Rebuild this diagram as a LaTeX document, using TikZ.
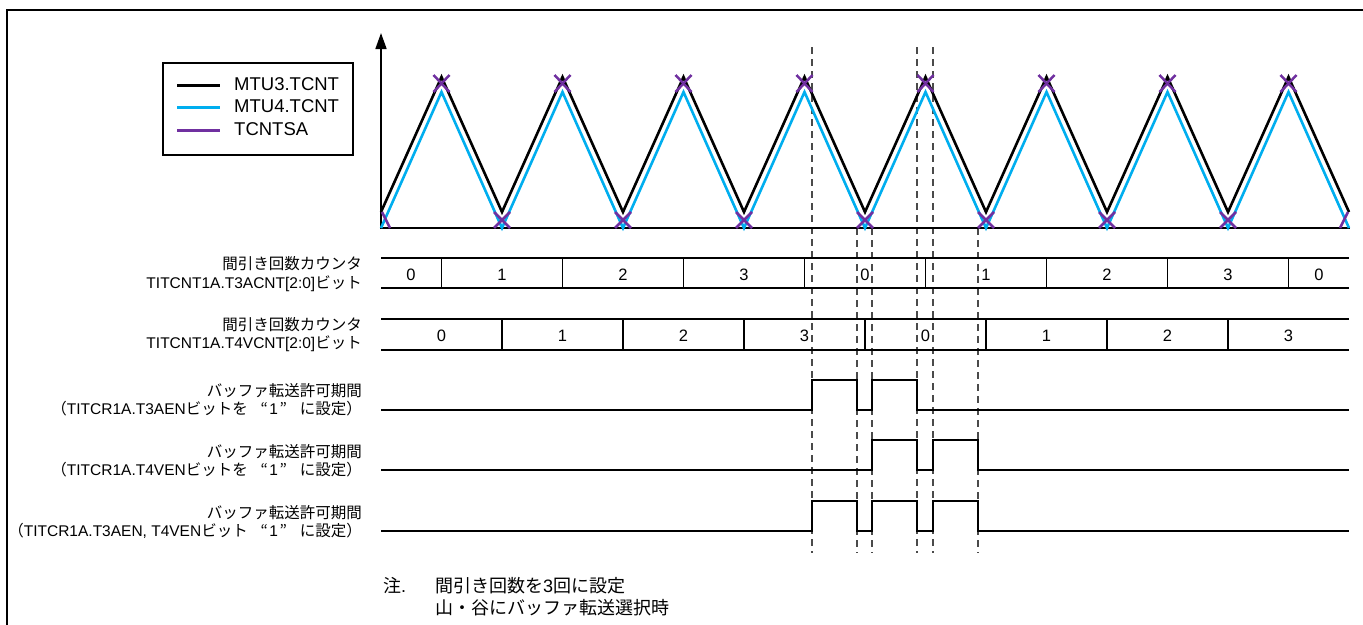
\documentclass[tikz,border=0pt]{standalone}
\usepackage{fontspec}
\setmainfont{Liberation Sans}
\newfontfamily\jp{Noto Sans CJK JP}
\usetikzlibrary{arrows.meta}
\definecolor{cyanw}{HTML}{00AEEF}
\definecolor{purp}{HTML}{7030A0}
\definecolor{dgray}{HTML}{4A4A4A}
\newcommand\oq{{\jp\hbox to 1.4em{\hfil“\hskip0.1em}}}
\newcommand\cq{{\jp\hbox to 1.4em{\hskip0.1em”\hfil}}}
\begin{document}
\begin{tikzpicture}[x=1pt,y=-1pt,
  txt/.style={font=\fontsize{15.5}{18}\selectfont, inner sep=0pt, text height=11.5pt, text depth=3pt},
  lbl/.style={txt, anchor=east},
  leg/.style={font=\fontsize{18.5}{21}\selectfont, inner sep=0pt, anchor=west, text height=13pt, text depth=3pt},
  num/.style={font=\fontsize{16.5}{19}\selectfont, inner sep=0pt, text height=12pt, text depth=0pt},
  note/.style={font=\fontsize{18}{21}\selectfont, inner sep=0pt, text height=13pt, text depth=3.5pt, anchor=west},
  wave/.style={line width=2.6pt, line join=miter},
  tsa/.style={purp, line width=2.5pt},
  thin/.style={line width=1.6pt},
  guide/.style={dgray, line width=1.3pt, dash pattern=on 7pt off 5pt},
  sig/.style={line width=2pt}]
\useasboundingbox (0,0) rectangle (1363,624);
\begin{scope}
  \clip (0,0) rectangle (1363,624);
  \draw[line width=1.5pt] (7,10) rectangle (1420,700);
\end{scope}

% legend
\node[draw, line width=1.5pt, minimum width=190pt, minimum height=92pt, anchor=north west, inner sep=0pt] (legend) at (162,62) {};
\draw[black, line width=3pt] (177,85) -- (220,85);
\draw[cyanw, line width=3pt] (177,107) -- (220,107);
\draw[purp, line width=3pt] (177,130) -- (220,130);
\node[leg] (l1) at (234,85) {MTU3.TCNT};
\node[leg] (l2) at (234,107) {MTU4.TCNT};
\node[leg] (l3) at (234,130) {TCNTSA};

% guides
\foreach \gx in {812,917,933} \draw[guide] (\gx,47) -- (\gx,553);
\foreach \gx in {857,872,978} \draw[guide] (\gx,228) -- (\gx,553);

% axes
\draw[line width=1.7pt] (381,228) -- (1350,228);
\draw[line width=1.7pt, -{Triangle[length=16pt,width=11pt]}] (381,229) -- (381,33);

% waveforms
\draw[wave, cyanw] (381,228) \foreach \k in {0,...,7} { -- ({441.5+121*\k},92) -- ({502+121*\k},228) };
\draw[wave, black] (381,212) \foreach \k in {0,...,7} { -- ({441.5+121*\k},77) -- ({502+121*\k},212) };
\foreach \k in {0,...,7} {
  \draw[tsa] ({441.5+121*\k-8},75) -- ({441.5+121*\k+8},92);
  \draw[tsa] ({441.5+121*\k+8},75) -- ({441.5+121*\k-8},92);
}
\foreach \k in {1,...,7} {
  \draw[tsa] ({381+121*\k-8},212) -- ({381+121*\k+8},228);
  \draw[tsa] ({381+121*\k+8},212) -- ({381+121*\k-8},228);
}
\draw[tsa] (382,212) -- (390,228);
\draw[tsa] (1340,228) -- (1348,212);

% counter row 1 (T3ACNT)
\draw[thin] (381,258) -- (1349,258);
\draw[thin] (381,288) -- (1349,288);
\foreach \k in {0,...,7} \draw[thin] ({441.5+121*\k},258) -- ({441.5+121*\k},288);
\node[num] (a0) at (411,274) {0};
\node[num] (a1) at (502,274) {1};
\node[num] (a2) at (623,274) {2};
\node[num] (a3) at (744,274) {3};
\node[num] (a4) at (865,274) {0};
\node[num] (a5) at (986,274) {1};
\node[num] (a6) at (1107,274) {2};
\node[num] (a7) at (1228,274) {3};
\node[num] (a8) at (1319,274) {0};

% counter row 2 (T4VCNT)
\draw[thin] (381,319) -- (1349,319);
\draw[thin] (381,350) -- (1349,350);
\foreach \k in {1,...,7} \draw[thin] ({381+121*\k},319) -- ({381+121*\k},350);
\node[num] (b0) at (441.5,335) {0};
\node[num] (b1) at (562.5,335) {1};
\node[num] (b2) at (683.5,335) {2};
\node[num] (b3) at (804.5,335) {3};
\node[num] (b4) at (925.5,335) {0};
\node[num] (b5) at (1046.5,335) {1};
\node[num] (b6) at (1167.5,335) {2};
\node[num] (b7) at (1288.5,335) {3};

% pulse signals
\draw[sig] (381,410) -| (812,380) -| (857,410) -| (872,380) -| (917,410) -- (1349,410);
\draw[sig] (381,470) -| (872,440) -| (917,470) -| (933,440) -| (978,470) -- (1349,470);
\draw[sig] (381,531) -| (812,501) -| (857,531) -| (872,501) -| (917,531) -| (933,501) -| (978,531) -- (1349,531);

% labels
\node[lbl] (c1a) at (362,265) {\jp 間引き回数カウンタ};
\node[lbl] (c1b) at (362,284) {TITCNT1A.T3ACNT[2:0]{\jp ビット}};
\node[lbl] (c2a) at (362,326) {\jp 間引き回数カウンタ};
\node[lbl] (c2b) at (362,344) {TITCNT1A.T4VCNT[2:0]{\jp ビット}};
\node[lbl] (s1a) at (362,392) {\jp バッファ転送許可期間};
\node[lbl] (s1b) at (362,410) {{\jp （}TITCR1A.T3AEN{\jp ビットを}\oq 1\cq{\jp に設定）}};
\node[lbl] (s2a) at (362,453) {\jp バッファ転送許可期間};
\node[lbl] (s2b) at (362,471) {{\jp （}TITCR1A.T4VEN{\jp ビットを}\oq 1\cq{\jp に設定）}};
\node[lbl] (s3a) at (362,514) {\jp バッファ転送許可期間};
\node[lbl] (s3b) at (362,532) {{\jp （}TITCR1A.T3AEN, T4VEN{\jp ビット}\oq 1\cq{\jp に設定）}};

% note
\node[note] (n0) at (383,588) {{\jp 注}.};
\node[note] (n1) at (435,588) {{\jp 間引き回数を}3{\jp 回に設定}};
\node[note] (n2) at (435,610) {\jp 山・谷にバッファ転送選択時};
\end{tikzpicture}
\end{document}
